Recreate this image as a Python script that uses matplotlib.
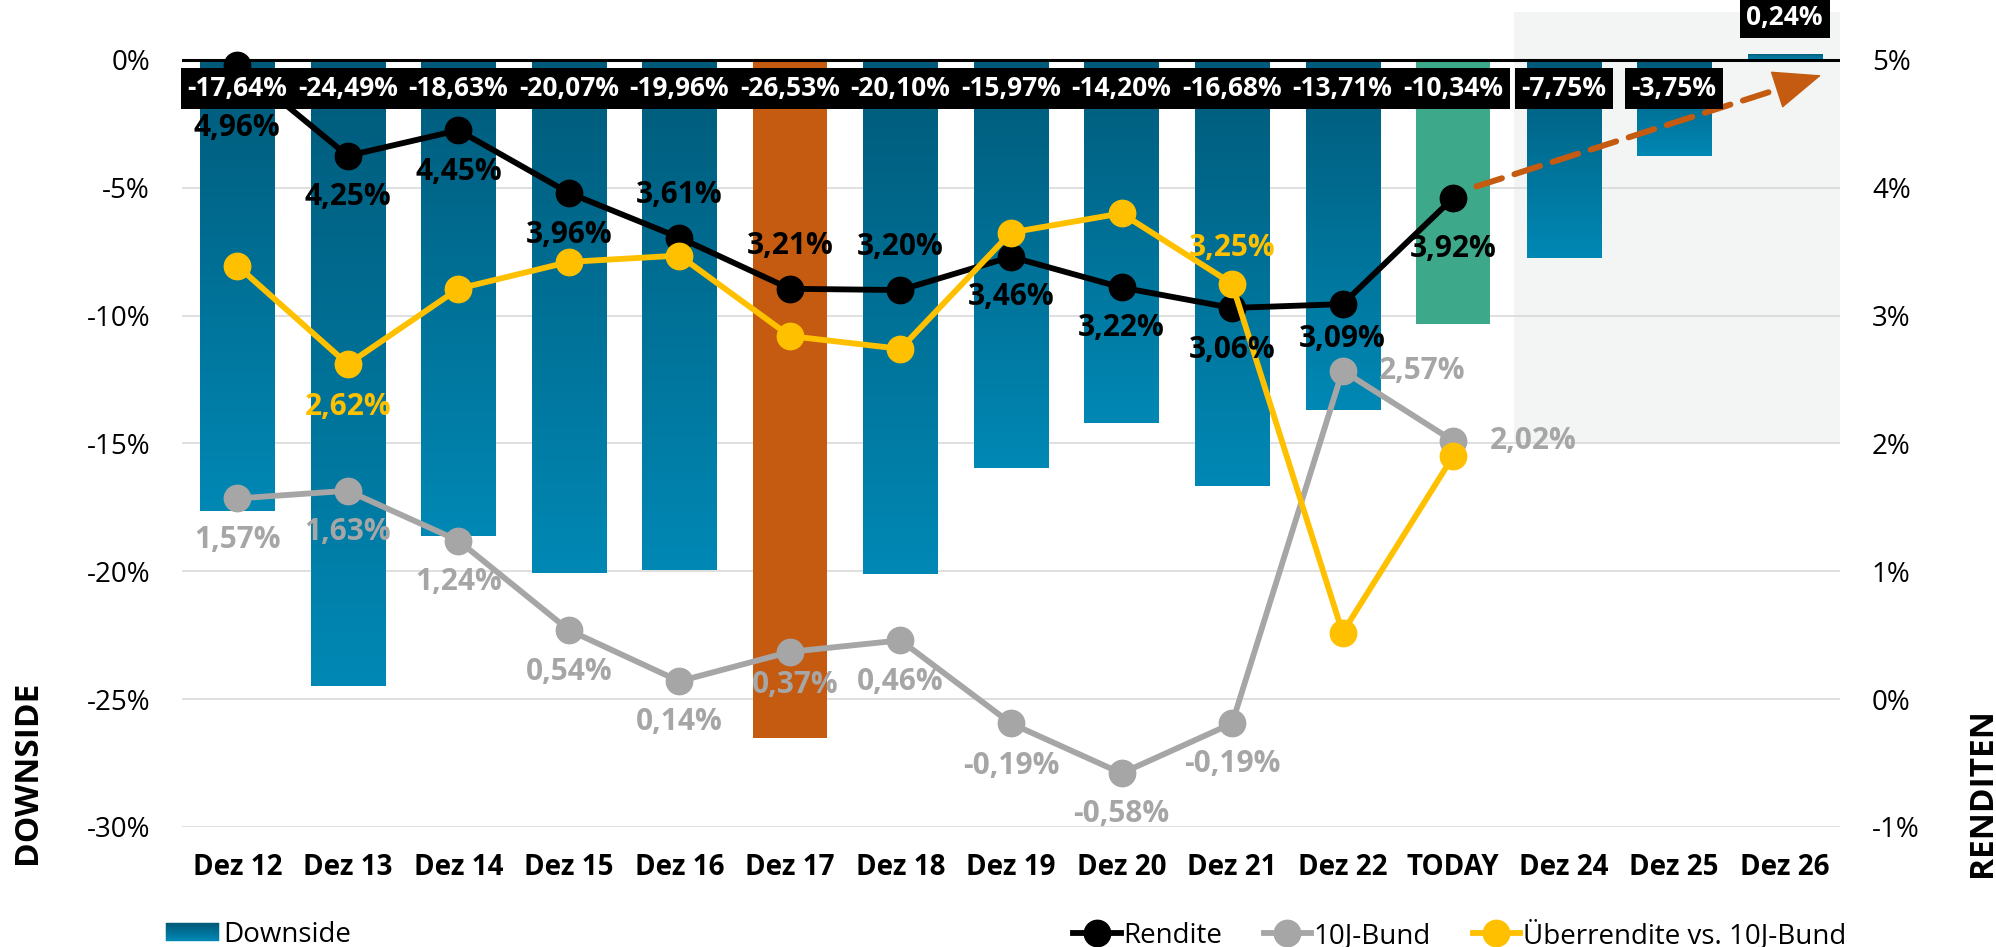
import numpy as np
import matplotlib
matplotlib.use("Agg")
import matplotlib.pyplot as plt
from matplotlib.colors import LinearSegmentedColormap
from matplotlib.patches import Rectangle
from matplotlib.legend_handler import HandlerBase

plt.rcParams['font.family'] = ['Open Sans', 'DejaVu Sans']

# ---------------- data ----------------
categories = ["Dez 12", "Dez 13", "Dez 14", "Dez 15", "Dez 16", "Dez 17", "Dez 18",
              "Dez 19", "Dez 20", "Dez 21", "Dez 22", "TODAY", "Dez 24", "Dez 25", "Dez 26"]
downside = [-17.64, -24.49, -18.63, -20.07, -19.96, -26.53, -20.10, -15.97,
            -14.20, -16.68, -13.71, -10.34, -7.75, -3.75, 0.24]
rendite = [4.96, 4.25, 4.45, 3.96, 3.61, 3.21, 3.20, 3.46, 3.22, 3.06, 3.09, 3.92]
bund10 = [1.57, 1.63, 1.24, 0.54, 0.14, 0.37, 0.46, -0.19, -0.58, -0.19, 2.57, 2.02]
ueber = [3.39, 2.62, 3.21, 3.42, 3.47, 2.84, 2.74, 3.65, 3.80, 3.25, 0.52, 1.90]

left_ticks = [-30, -25, -20, -15, -10, -5, 0]
right_ticks = [-1, 0, 1, 2, 3, 4, 5]

# ---------------- styles ----------------
GRAD_TOP, GRAD_BOTTOM = "#005a79", "#0088b5"
cmap = LinearSegmentedColormap.from_list("ds", [GRAD_TOP, GRAD_BOTTOM])
special_colors = {5: "#c55a11", 11: "#3ea88b"}
C_REND, C_BUND, C_UEB = "black", "#a6a6a6", "#ffc000"
ARROW_C = "#c55a11"
LW = 4.2
MS = 19
LBL_FS = 21.5
BOX_FS = 19

# label offsets in points (dx, dy)
rend_off = [(0, -45), (0, -30), (0, -30), (0, -30), (0, 31), (0, 31), (0, 31),
            (0, -29), (0, -29), (0, -30), (0, -25), (0, -37)]
bund_off = [(0, -30), (0, -30), (0, -30), (0, -30), (0, -29), (4, -24), (0, -30),
            (0, -31), (0, -29), (0, -29), (57, 0), (58, 0)]
ueb_off = {1: (0, -31), 9: (0, 26)}

# forecast arrow (annotation, right-axis units)
ARROW_START = (11.21, 4.01)
ARROW_TIP = (14.33, 4.88)


def fmt(v):
    return f"{v:.2f}".replace(".", ",") + "%"


fig = plt.figure(figsize=(19.96, 9.47), dpi=100)
ax1 = fig.add_axes([0.09118, 0.12672, 0.83066, 0.86399])
ax2 = ax1.twinx()

x = np.arange(len(categories))

# forecast shading
ax1.add_patch(Rectangle((11.55, -15), 14.5 - 11.55, 1.875 + 15,
                        facecolor="#f2f5f4", edgecolor="none", zorder=0.2))

bars = ax1.bar(x, downside, width=0.67, color=GRAD_BOTTOM, zorder=2, label="Downside")
grad = np.linspace(0, 1, 256).reshape(-1, 1)
for i, b in enumerate(bars):
    if i in special_colors:
        b.set_facecolor(special_colors[i])
        continue
    bb = b.get_bbox()
    im = ax1.imshow(grad, cmap=cmap, origin="upper", aspect="auto",
                    extent=[bb.x0, bb.x1, min(bb.y0, bb.y1), max(bb.y0, bb.y1)],
                    zorder=2.1)
    im.set_clip_path(b)

ax1.axhline(0, color="black", lw=2.2, zorder=3)

ax1.set_xlim(-0.5, 14.5)
ax1.set_ylim(-30, 2)
ax1.set_yticks(left_ticks)
ax1.set_yticklabels([f"{t}%" for t in left_ticks])
ax1.set_xticks(x)
ax1.set_xticklabels(categories, fontweight="bold")
ax1.grid(axis="y", color="#d9d9d9", lw=1.2)
ax1.set_axisbelow(True)
ax1.tick_params(axis="y", length=0, labelsize=20, pad=23)
ax1.tick_params(axis="x", length=0, labelsize=20, pad=19)

ax2.set_ylim(-1, 5.4)
ax2.set_yticks(right_ticks)
ax2.set_yticklabels([f"{t}%" for t in right_ticks])
ax2.tick_params(axis="y", length=0, labelsize=20, pad=23)

for a in (ax1, ax2):
    for s in a.spines.values():
        s.set_visible(False)

xl = x[:len(rendite)]
l1, = ax2.plot(xl, rendite, color=C_REND, lw=LW, marker="o", ms=MS, zorder=3, label="Rendite")
l2, = ax2.plot(xl, bund10, color=C_BUND, lw=LW, marker="o", ms=MS, zorder=3.1, label="10J-Bund")
l3, = ax2.plot(xl, ueber, color=C_UEB, lw=LW, marker="o", ms=MS, zorder=3.2,
               label="Überrendite vs. 10J-Bund")

for i, v in enumerate(rendite):
    ax2.annotate(fmt(v), (i, v), xytext=rend_off[i], textcoords="offset points",
                 ha="center", va="center", fontsize=LBL_FS, fontweight="bold", color=C_REND, zorder=6)
for i, v in enumerate(bund10):
    ax2.annotate(fmt(v), (i, v), xytext=bund_off[i], textcoords="offset points",
                 ha="center", va="center", fontsize=LBL_FS, fontweight="bold", color=C_BUND, zorder=6)
for i, off in ueb_off.items():
    ax2.annotate(fmt(ueber[i]), (i, ueber[i]), xytext=off, textcoords="offset points",
                 ha="center", va="center", fontsize=LBL_FS, fontweight="bold", color=C_UEB, zorder=6)

# downside value boxes
for i, v in enumerate(downside):
    if v < 0:
        xy, off = (i, 0), (0, -20.5)
    else:
        xy, off = (i, v), (0, 26)
    ax2.annotate(fmt(v), xy=xy, xycoords=ax1.transData, xytext=off, textcoords="offset points",
                 ha="center", va="center", color="white", fontsize=BOX_FS, fontweight="bold",
                 bbox=dict(boxstyle="square,pad=0.25", fc="black", ec="none"), zorder=7)

# forecast arrow: dashed shaft + solid head
ax2.annotate("", xy=ARROW_TIP, xytext=ARROW_START,
             arrowprops=dict(arrowstyle="-", linestyle=(0, (4.5, 2.2)), lw=4.3, color=ARROW_C,
                             shrinkA=0, shrinkB=26), zorder=5)
near_tip = (ARROW_START[0] + 0.9 * (ARROW_TIP[0] - ARROW_START[0]),
            ARROW_START[1] + 0.9 * (ARROW_TIP[1] - ARROW_START[1]))
ax2.annotate("", xy=ARROW_TIP, xytext=near_tip,
             arrowprops=dict(arrowstyle="-|>,head_length=1.6,head_width=0.65", lw=1,
                             color=ARROW_C, shrinkA=0, shrinkB=0, mutation_scale=20), zorder=5)

fig.text(28 / 1996, 1 - 772 / 947, "DOWNSIDE", rotation=90, ha="center", va="center",
         fontsize=24, fontweight="bold")
fig.text(1982 / 1996, 1 - 793 / 947, "RENDITEN", rotation=90, ha="center", va="center",
         fontsize=24, fontweight="bold")


class GradientHandler(HandlerBase):
    def create_artists(self, legend, orig_handle, xdescent, ydescent, width, height, fontsize, trans):
        n = 24
        arts = []
        for k in range(n):
            c = cmap(k / (n - 1))
            r = Rectangle((-xdescent, -ydescent + height * (1 - (k + 1) / n)), width, height / n,
                          facecolor=c, edgecolor=c, lw=0.3, transform=trans)
            arts.append(r)
        return arts


grad_handle = Rectangle((0, 0), 1, 1)
fig.legend([grad_handle], ["Downside"], loc="center left",
           bbox_to_anchor=(166 / 1996, 1 - 935 / 947), frameon=False, fontsize=20,
           handlelength=1.9, handleheight=0.6, handletextpad=0.15, borderpad=0,
           borderaxespad=0, handler_map={Rectangle: GradientHandler()})
fig.legend([l1, l2, l3], [l1.get_label(), l2.get_label(), l3.get_label()], loc="center right",
           bbox_to_anchor=(1846 / 1996, 1 - 935 / 947), ncol=3, frameon=False, fontsize=20,
           handlelength=1.7, handletextpad=0.1, columnspacing=1.5, borderpad=0, borderaxespad=0)

fig.savefig("out.png", dpi=100)
